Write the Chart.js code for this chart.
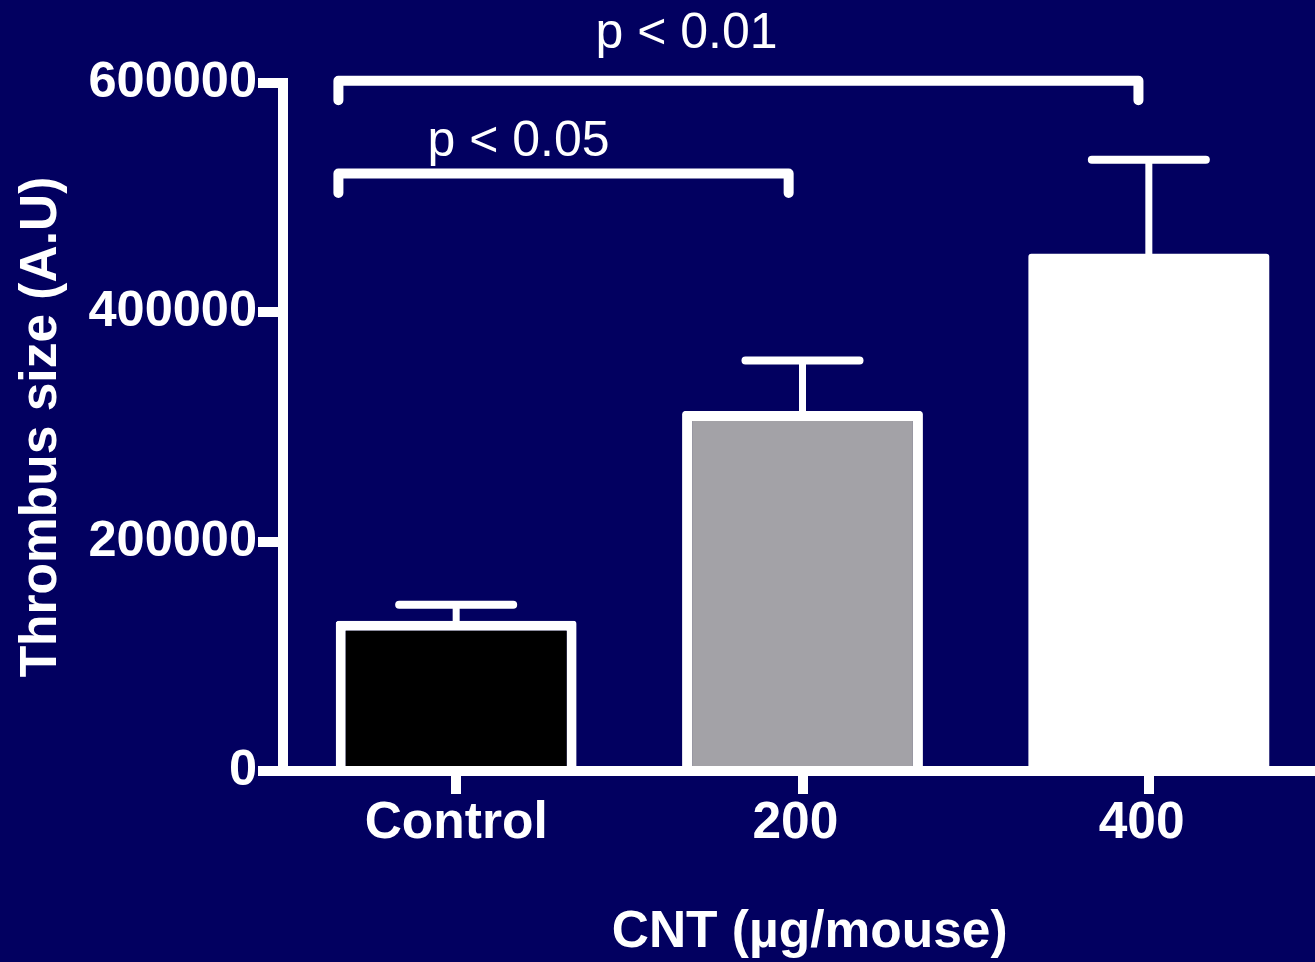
<!DOCTYPE html>
<html>
<head>
<meta charset="utf-8">
<title>Thrombus size by CNT dose</title>
<script src="https://cdn.jsdelivr.net/npm/chart.js@4/dist/chart.umd.min.js"></script>
<style>
  html, body { margin: 0; padding: 0; background: #020060; overflow: hidden; }
  #wrap { width: 1322px; height: 962px; }
</style>
</head>
<body>
<div id="wrap"><canvas id="chart" width="1322" height="962"></canvas></div>
<script>
// Group means and standard errors (thrombus size, arbitrary units)
const categories = ['Control', '200 ', '400 '];
const meanSize = [131000, 314000, 451000];
const semSize = [14000, 44000, 82000];
const fillColors = ['#000000', '#a3a2a7', '#ffffff'];
const outlineWidths = [10, 10, 0];
const yTicks = [0, 200000, 400000, 600000];

// Significance brackets, in category / value units
const sigLabels = ['p < 0.01', 'p < 0.05'];
const sigFrom = [-0.34, -0.34];
const sigTo = [1.97, 0.96];
const sigTop = [602000, 521000];
const sigLeg = [585000, 504000];
const sigTextX = [0.665, 0.18];
const sigTextY = [630500, 536300];

const FONT = '"Liberation Sans", Arial, Helvetica, sans-serif';
const BOLD = { size: 51.5, weight: 'bold' };
Chart.defaults.font.family = FONT;
Chart.defaults.color = '#ffffff';

// Error bars and significance brackets drawn on top of the bars
const overlays = {
  id: 'overlays',
  afterDatasetsDraw(chart) {
    const { ctx, scales: { x, y } } = chart;
    ctx.save();
    ctx.strokeStyle = '#ffffff';
    ctx.fillStyle = '#ffffff';

    meanSize.forEach((m, i) => {
      const cx = x.getPixelForValue(i);
      const yb = y.getPixelForValue(m);
      const yt = y.getPixelForValue(m + semSize[i]);
      ctx.lineCap = 'butt';
      ctx.lineWidth = 7;
      ctx.beginPath();
      ctx.moveTo(cx, yb + 4);
      ctx.lineTo(cx, yt);
      ctx.stroke();
      ctx.lineCap = 'round';
      ctx.lineWidth = 8;
      ctx.beginPath();
      ctx.moveTo(cx - 57, yt);
      ctx.lineTo(cx + 57, yt);
      ctx.stroke();
    });

    ctx.lineWidth = 10;
    ctx.lineCap = 'round';
    ctx.lineJoin = 'round';
    sigLabels.forEach((label, i) => {
      const x1 = x.getPixelForValue(sigFrom[i]);
      const x2 = x.getPixelForValue(sigTo[i]);
      const yTop = y.getPixelForValue(sigTop[i]);
      const yLeg = y.getPixelForValue(sigLeg[i]);
      ctx.beginPath();
      ctx.moveTo(x1, yLeg);
      ctx.lineTo(x1, yTop);
      ctx.lineTo(x2, yTop);
      ctx.lineTo(x2, yLeg);
      ctx.stroke();

      ctx.font = '50px ' + FONT;
      ctx.textAlign = 'center';
      ctx.textBaseline = 'alphabetic';
      ctx.fillText(label, x.getPixelForValue(sigTextX[i]), y.getPixelForValue(sigTextY[i]));
    });
    ctx.restore();
  }
};

new Chart(document.getElementById('chart'), {
  type: 'bar',
  data: {
    labels: categories,
    datasets: [{
      data: meanSize,
      backgroundColor: fillColors,
      borderColor: '#ffffff',
      borderWidth: outlineWidths,
      borderRadius: 3,
      borderSkipped: 'bottom',
      barPercentage: 0.6955,
      categoryPercentage: 1
    }]
  },
  options: {
    responsive: false,
    animation: false,
    devicePixelRatio: 1,
    layout: { padding: { top: 83, left: 0, right: 0, bottom: 0 } },
    plugins: { legend: { display: false }, tooltip: { enabled: false } },
    scales: {
      x: {
        afterFit(s) { s.height = 191; },
        ticks: {
          color: '#ffffff',
          font: BOLD,
          padding: -1,
          maxRotation: 0,
          autoSkip: false
        },
        grid: {
          offset: false,
          drawOnChartArea: false,
          drawTicks: true,
          tickLength: 23,
          lineWidth: 10,
          color: '#ffffff',
          tickColor: '#ffffff'
        },
        border: { display: true, color: '#ffffff', width: 10 },
        title: {
          display: true,
          text: ' CNT (µg/mouse)',
          color: '#ffffff',
          font: BOLD,
          padding: { top: 0, bottom: -2 }
        }
      },
      y: {
        min: 0,
        max: 600000,
        afterFit(s) { s.width = 283; },
        afterBuildTicks(s) { s.ticks = yTicks.map(v => ({ value: v })); },
        ticks: {
          color: '#ffffff',
          font: { size: 50.5, weight: 'bold' },
          padding: 1,
          callback: v => String(v)
        },
        grid: {
          drawOnChartArea: false,
          drawTicks: true,
          tickLength: 25,
          lineWidth: 10,
          color: '#ffffff',
          tickColor: '#ffffff'
        },
        border: { display: true, color: '#ffffff', width: 10 },
        title: {
          display: true,
          text: 'Thrombus size (A.U)',
          color: '#ffffff',
          font: BOLD,
          padding: { top: 11, bottom: 0 }
        }
      }
    }
  },
  plugins: [overlays]
});
</script>
</body>
</html>
